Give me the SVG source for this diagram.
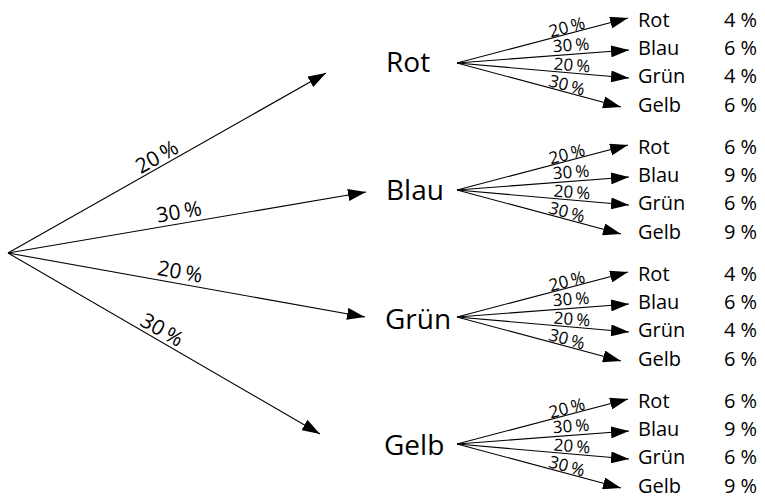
<svg xmlns="http://www.w3.org/2000/svg" width="765" height="499" viewBox="0 0 765 499">
<style>
text{font-family:"Open Sans","Noto Sans",sans-serif;fill:#000}
.n{font-size:28px}
.l{font-size:20px}
.p{font-size:20px;text-anchor:end}
.m{font-size:21px;text-anchor:middle}
.s{font-size:17px;text-anchor:middle}
line{stroke:#000;stroke-width:1.1;fill:none}
</style>
<defs>
<marker id="ah" markerUnits="userSpaceOnUse" markerWidth="18" markerHeight="12" refX="18" refY="6" orient="auto">
<path d="M0,0 L18,6 L0,12 z" fill="#000"/>
</marker>
</defs>
<g id="connectors" marker-end="url(#ah)">
<line x1="8" y1="253" x2="326" y2="73"/>
<line x1="8" y1="253" x2="366" y2="192"/>
<line x1="8" y1="253" x2="365" y2="317"/>
<line x1="8" y1="253" x2="320" y2="434"/>
<g transform="translate(457,63)">
<line x1="0" y1="0" x2="171" y2="-45"/><line x1="0" y1="0" x2="172" y2="-13"/><line x1="0" y1="0" x2="172" y2="15"/><line x1="0" y1="0" x2="164" y2="44"/>
</g>
<g transform="translate(457,190)">
<line x1="0" y1="0" x2="171" y2="-45"/><line x1="0" y1="0" x2="172" y2="-13"/><line x1="0" y1="0" x2="172" y2="15"/><line x1="0" y1="0" x2="164" y2="44"/>
</g>
<g transform="translate(457,317)">
<line x1="0" y1="0" x2="171" y2="-45"/><line x1="0" y1="0" x2="172" y2="-13"/><line x1="0" y1="0" x2="172" y2="15"/><line x1="0" y1="0" x2="164" y2="44"/>
</g>
<g transform="translate(457,444)">
<line x1="0" y1="0" x2="171" y2="-45"/><line x1="0" y1="0" x2="172" y2="-13"/><line x1="0" y1="0" x2="172" y2="15"/><line x1="0" y1="0" x2="164" y2="44"/>
</g>
</g>
<g id="root-labels">
<text class="m" transform="translate(157,157) rotate(-29.5)" y="7">20<tspan dx="4">%</tspan></text>
<text class="m" transform="translate(179,212) rotate(-9.7)" y="7">30<tspan dx="4">%</tspan></text>
<text class="m" transform="translate(180,272) rotate(10.2)" y="7">20<tspan dx="4">%</tspan></text>
<text class="m" transform="translate(162,330) rotate(30)" y="7">30<tspan dx="4">%</tspan></text>
</g>
<g id="n-rot">
<text class="n" x="386" y="72">Rot</text>
<g transform="translate(457,63)">
<text class="s" transform="translate(110,-36) rotate(-14.7)" y="6">20<tspan dx="3">%</tspan></text>
<text class="s" transform="translate(114,-18) rotate(-4.3)" y="6">30<tspan dx="3">%</tspan></text>
<text class="s" transform="translate(115,2) rotate(5)" y="6">20<tspan dx="3">%</tspan></text>
<text class="s" transform="translate(110,22) rotate(15)" y="6">30<tspan dx="3">%</tspan></text>
<text class="l" x="181" y="-36">Rot</text><text class="p" x="300" y="-36">4<tspan dx="5">%</tspan></text>
<text class="l" x="181" y="-8">Blau</text><text class="p" x="300" y="-8">6<tspan dx="5">%</tspan></text>
<text class="l" x="181" y="20">Grün</text><text class="p" x="300" y="20">4<tspan dx="5">%</tspan></text>
<text class="l" x="181" y="49">Gelb</text><text class="p" x="300" y="49">6<tspan dx="5">%</tspan></text>
</g>
</g>
<g id="n-blau">
<text class="n" x="386" y="200">Blau</text>
<g transform="translate(457,190)">
<text class="s" transform="translate(110,-36) rotate(-14.7)" y="6">20<tspan dx="3">%</tspan></text>
<text class="s" transform="translate(114,-18) rotate(-4.3)" y="6">30<tspan dx="3">%</tspan></text>
<text class="s" transform="translate(115,2) rotate(5)" y="6">20<tspan dx="3">%</tspan></text>
<text class="s" transform="translate(110,22) rotate(15)" y="6">30<tspan dx="3">%</tspan></text>
<text class="l" x="181" y="-36">Rot</text><text class="p" x="300" y="-36">6<tspan dx="5">%</tspan></text>
<text class="l" x="181" y="-8">Blau</text><text class="p" x="300" y="-8">9<tspan dx="5">%</tspan></text>
<text class="l" x="181" y="20">Grün</text><text class="p" x="300" y="20">6<tspan dx="5">%</tspan></text>
<text class="l" x="181" y="49">Gelb</text><text class="p" x="300" y="49">9<tspan dx="5">%</tspan></text>
</g>
</g>
<g id="n-gruen">
<text class="n" x="385" y="329">Grün</text>
<g transform="translate(457,317)">
<text class="s" transform="translate(110,-36) rotate(-14.7)" y="6">20<tspan dx="3">%</tspan></text>
<text class="s" transform="translate(114,-18) rotate(-4.3)" y="6">30<tspan dx="3">%</tspan></text>
<text class="s" transform="translate(115,2) rotate(5)" y="6">20<tspan dx="3">%</tspan></text>
<text class="s" transform="translate(110,22) rotate(15)" y="6">30<tspan dx="3">%</tspan></text>
<text class="l" x="181" y="-36">Rot</text><text class="p" x="300" y="-36">4<tspan dx="5">%</tspan></text>
<text class="l" x="181" y="-8">Blau</text><text class="p" x="300" y="-8">6<tspan dx="5">%</tspan></text>
<text class="l" x="181" y="20">Grün</text><text class="p" x="300" y="20">4<tspan dx="5">%</tspan></text>
<text class="l" x="181" y="49">Gelb</text><text class="p" x="300" y="49">6<tspan dx="5">%</tspan></text>
</g>
</g>
<g id="n-gelb">
<text class="n" x="384" y="455">Gelb</text>
<g transform="translate(457,444)">
<text class="s" transform="translate(110,-36) rotate(-14.7)" y="6">20<tspan dx="3">%</tspan></text>
<text class="s" transform="translate(114,-18) rotate(-4.3)" y="6">30<tspan dx="3">%</tspan></text>
<text class="s" transform="translate(115,2) rotate(5)" y="6">20<tspan dx="3">%</tspan></text>
<text class="s" transform="translate(110,22) rotate(15)" y="6">30<tspan dx="3">%</tspan></text>
<text class="l" x="181" y="-36">Rot</text><text class="p" x="300" y="-36">6<tspan dx="5">%</tspan></text>
<text class="l" x="181" y="-8">Blau</text><text class="p" x="300" y="-8">9<tspan dx="5">%</tspan></text>
<text class="l" x="181" y="20">Grün</text><text class="p" x="300" y="20">6<tspan dx="5">%</tspan></text>
<text class="l" x="181" y="49">Gelb</text><text class="p" x="300" y="49">9<tspan dx="5">%</tspan></text>
</g>
</g>
</svg>
